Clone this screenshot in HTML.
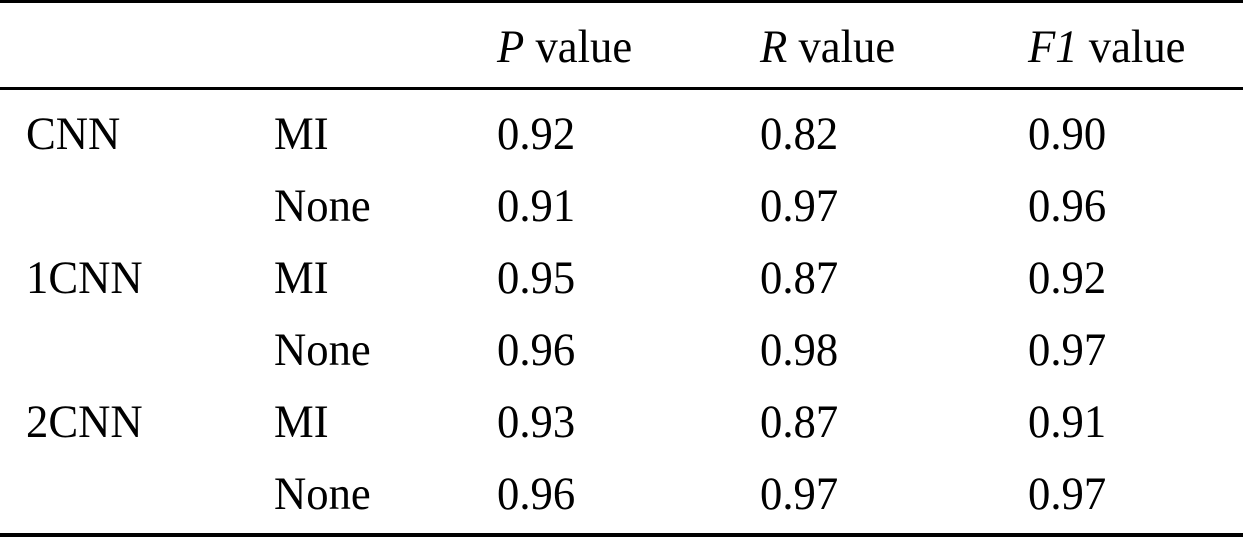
<!DOCTYPE html>
<html><head><style>
body{margin:0;width:1243px;height:537px;background:#fff;position:relative;overflow:hidden;font-family:"Liberation Serif",serif;color:#000}
.l{position:absolute;left:0;width:1243px;background:#000}
.t{position:absolute;font-size:47px;line-height:1;transform:scaleX(0.95);transform-origin:0 0;white-space:nowrap}
</style></head><body>
<div class="l" style="top:0;height:3px"></div>
<div class="l" style="top:87px;height:3px"></div>
<div class="l" style="top:533px;height:4px"></div>
<div id="c"></div>
<script>
var rows=[["","","<i>P</i> value","<i>R</i> value","<i>F1</i> value"],
["CNN","MI","0.92","0.82","0.90"],["","None","0.91","0.97","0.96"],
["1CNN","MI","0.95","0.87","0.92"],["","None","0.96","0.98","0.97"],
["2CNN","MI","0.93","0.87","0.91"],["","None","0.96","0.97","0.97"]];
var xs=[26,274,497,760,1028],h="";
rows.forEach(function(r,i){var b=i==0?66:153+(i-1)*72;
r.forEach(function(s,j){if(s)h+='<div class="t" style="left:'+xs[j]+'px;top:'+(b-42)+'px">'+s+'</div>';});});
document.getElementById("c").innerHTML=h;
</script>
</body></html>
